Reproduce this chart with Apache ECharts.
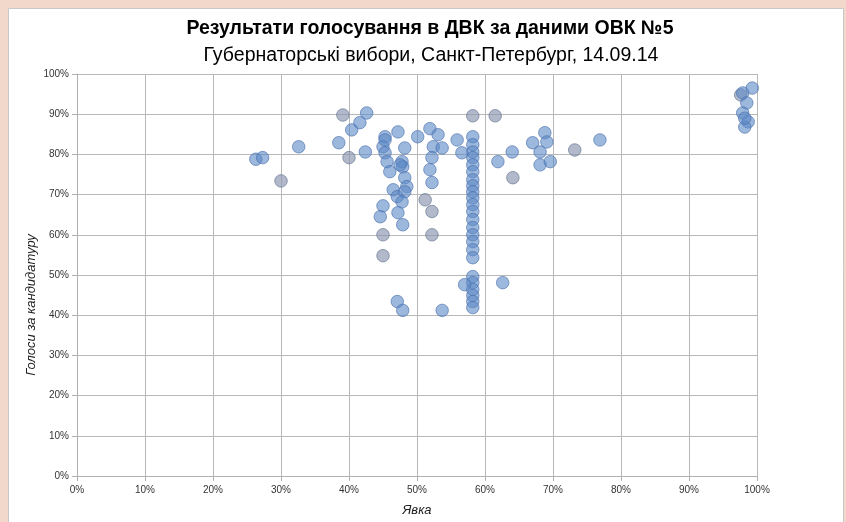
<!DOCTYPE html>
<html><head><meta charset="utf-8">
<script src="https://cdn.jsdelivr.net/npm/echarts@6/dist/echarts.min.js"></script>
<style>html,body{margin:0;padding:0;background:#f2d8cb;}#c{width:846px;height:522px;}</style>
</head><body><div id="c"></div>
<script>
const titleText = 'Результати голосування в ДВК за даними ОВК №5';
const subtitleText = 'Губернаторські вибори, Санкт-Петербург, 14.09.14';
const xAxisName = 'Явка';
const yAxisName = 'Голоси за кандидатуру';
const tickLabels = ['0%','10%','20%','30%','40%','50%','60%','70%','80%','90%','100%'];

// turnout (%) for blue markers
const turnoutBlue = [26.3,27.3,32.6,38.5,40.4,41.6,42.6,42.4,45.3,47.2,45.0,48.2,50.1,51.9,53.1,52.4,53.7,52.2,51.9,52.2,45.3,45.6,46.0,47.8,47.9,48.2,48.5,46.5,47.1,48.2,47.8,45.0,47.2,44.6,47.9,45.3,47.5,55.9,47.1,47.9,53.7,
 58.2,58.2,58.2,58.2,58.2,58.2,56.6,58.2,58.2,58.2,58.2,58.2,58.2,58.2,58.2,58.2,58.2,58.2,58.2,58.2,58.2,58.2,58.2,58.2,58.2,57.0,
 64.0,61.9,62.6,68.8,69.1,67.0,68.1,68.1,69.6,76.9,
 97.9,99.3,98.5,97.9,98.7,98.2,98.2,100.1];
// candidate vote share (%) for blue markers
const votesBlue = [78.8,79.2,81.9,82.9,86.1,87.9,90.3,80.6,84.4,85.6,81.9,81.6,84.4,86.4,84.9,81.9,81.6,79.2,76.2,73.0,80.4,78.2,75.7,78.2,76.9,74.2,72.0,71.2,69.5,70.7,68.2,67.2,65.5,64.5,62.5,83.6,77.4,83.6,43.4,41.2,41.2,
 84.4,82.4,80.6,79.2,77.4,75.7,80.4,73.7,72.2,70.7,69.2,67.5,65.8,63.8,61.8,60.0,58.3,56.3,54.3,49.6,48.1,46.4,44.9,43.4,41.9,47.6,
 80.6,78.2,48.1,85.4,83.1,82.9,80.6,77.4,78.2,83.6,
 95.3,96.5,92.8,90.3,88.1,86.8,89.0,79.9];
// turnout (%) for grey markers
const turnoutGrey = [30.0,39.1,40.0,58.2,61.5,45.0,52.2,52.2,64.1,73.2,45.0,51.2,97.6];
// vote share (%) for grey markers
const votesGrey = [73.4,89.8,79.2,89.6,89.6,60.0,60.0,65.8,74.2,81.1,54.8,68.7,94.8];

const blueData = turnoutBlue.map((x,i)=>[x, votesBlue[i]]);
const greyData = turnoutGrey.map((x,i)=>[x, votesGrey[i]]);

const chart = echarts.init(document.getElementById('c'));
const fontFam = '"Liberation Sans",Arial,sans-serif';
chart.setOption({
  backgroundColor: '#f2d8cb',
  animation: false,
  graphic: [
    {type:'rect', left:8, top:8, shape:{width:835, height:520}, style:{fill:'#ffffff', stroke:'#c8c8c8', lineWidth:1}, z:-10},
    {type:'text', x:430, y:19, style:{text:titleText, font:'bold 19.5px '+fontFam, fill:'#000', align:'center', verticalAlign:'top'}},
    {type:'text', x:431, y:46, style:{text:subtitleText, font:'19.5px '+fontFam, fill:'#000', align:'center', verticalAlign:'top'}},
    {type:'text', x:31, y:305, rotation:Math.PI/2, style:{text:yAxisName, font:'italic 13px '+fontFam, fill:'#222', align:'center', verticalAlign:'middle'}}
  ],
  grid: {left:77, right:89, top:74, bottom:45},
  xAxis: {
    type:'value', min:0, max:100, interval:10,
    name: xAxisName, nameLocation:'middle', nameGap:28,
    nameTextStyle:{fontFamily:fontFam, fontStyle:'italic', fontSize:13, color:'#222'},
    axisLine:{show:true, lineStyle:{color:'#b0b0b0'}},
    axisTick:{show:true, length:5, lineStyle:{color:'#b0b0b0'}},
    splitLine:{show:true, lineStyle:{color:'#b8b8b8', width:1}},
    axisLabel:{fontFamily:fontFam, fontSize:10, color:'#333', margin:9, formatter:(v)=>tickLabels[Math.round(v/10)]}
  },
  yAxis: {
    type:'value', min:0, max:100, interval:10,
    axisLine:{show:true, lineStyle:{color:'#b0b0b0'}},
    axisTick:{show:true, length:5, lineStyle:{color:'#b0b0b0'}},
    splitLine:{show:true, lineStyle:{color:'#b8b8b8', width:1}},
    axisLabel:{fontFamily:fontFam, fontSize:10, color:'#333', margin:8, formatter:(v)=>tickLabels[Math.round(v/10)]}
  },
  series: [
    {type:'scatter', data: greyData, symbolSize:12.5,
     itemStyle:{color:'rgba(140,152,178,0.85)', borderColor:'rgba(110,122,150,0.9)', borderWidth:1}},
    {type:'scatter', data: blueData, symbolSize:12.5,
     itemStyle:{color:'rgba(92,136,198,0.75)', borderColor:'rgba(70,110,170,0.8)', borderWidth:1}}
  ]
});
</script></body></html>
